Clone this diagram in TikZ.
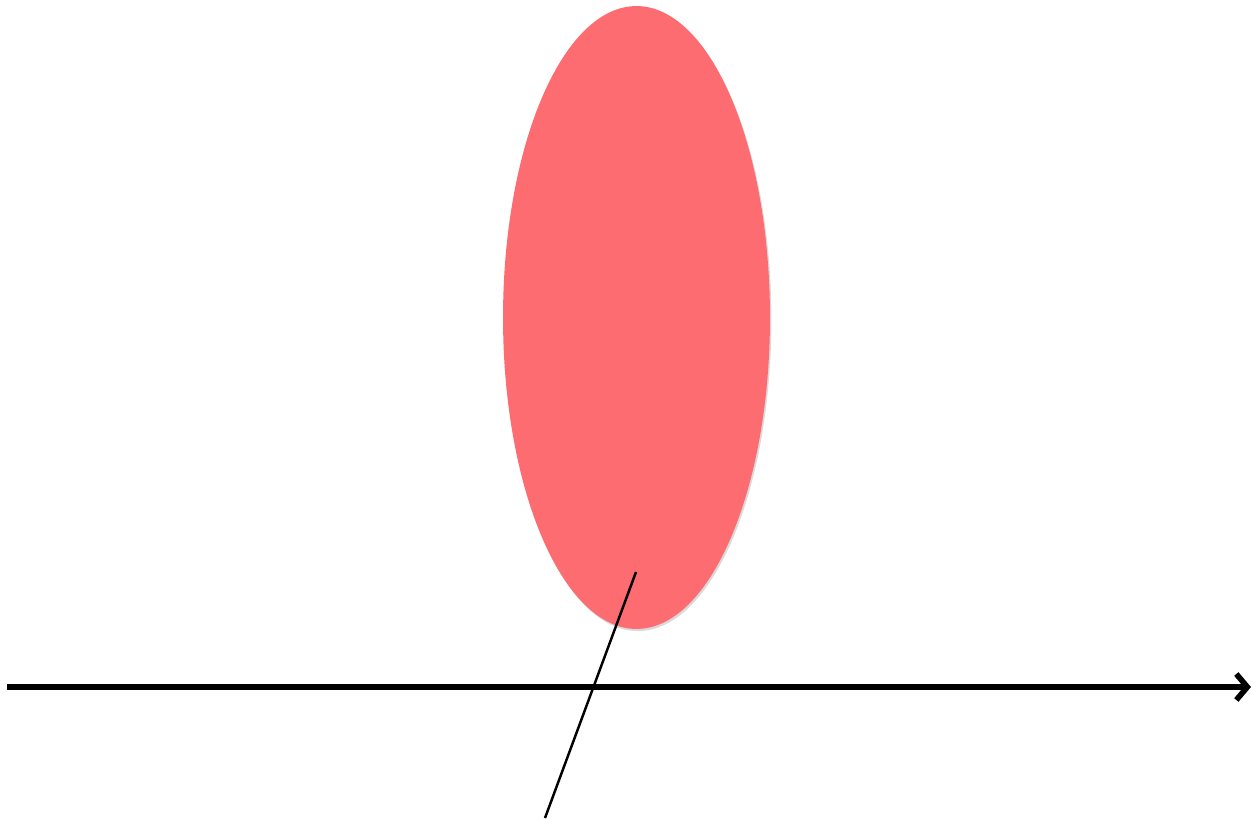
\documentclass[tikz,border=0pt]{standalone}
\usepackage{tikz}
\usetikzlibrary{positioning, shapes.geometric, arrows.meta, shadows}
\definecolor{blobred}{RGB}{252,108,112}
\tikzset{
	blob/.style={ellipse, fill=blobred, draw=none, inner sep=0pt,
	  drop shadow={shadow xshift=0.8pt, shadow yshift=-1.2pt, opacity=0.15, fill=black}}
}
\tikzset{
	axisline/.style={line width=3.2pt, -{Straight Barb[length=0.22cm, width=0.52cm, line width=3.2pt]}}
}
\tikzset{
	pointer/.style={line width=1.4pt}
}
\begin{document}
\begin{tikzpicture}[x=0.02cm, y=-0.02cm]
      \useasboundingbox (0,0) rectangle (1252,820);
      % the blob
      \node[blob, minimum width=5.34cm, minimum height=12.46cm] (cell) at (636.5,317.5) {};
      % horizontal axis
      \coordinate (axl) at (7,687);
      \coordinate (axr) at (1251,687);
      \draw[axisline] (axl) -- (axr);
      % pointer into the blob
      \coordinate (pin) at (636,572);
      \coordinate (tail) at (545,818);
      \draw[pointer] (pin) -- (tail);
    \end{tikzpicture}
\end{document}
